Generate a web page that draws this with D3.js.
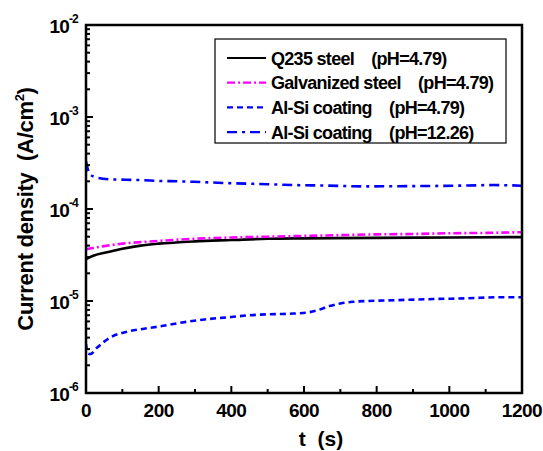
<!DOCTYPE html>
<meta charset="utf-8">
<head>
  <style>
    body { margin: 0; background: #fff; }
    svg { display: block; }
    text { font-family: "Liberation Sans", Arial, sans-serif; font-weight: bold; }
  </style>
</head>
<body>
  <script src="https://d3js.org/d3.v7.min.js"></script>
  <script>
    // readings: time (s) and current density (A/cm2)
    const seriesNames = [
      "Q235 steel    (pH=4.79)",
      "Galvanized steel    (pH=4.79)",
      "Al-Si coating    (pH=4.79)",
      "Al-Si coating    (pH=12.26)"
    ];
    const q235T = [0, 20, 60, 100, 150, 200, 300, 400, 500, 600, 800, 1000, 1200];
    const q235V = [2.85e-5, 3.1e-5, 3.4e-5, 3.7e-5, 4.0e-5, 4.2e-5, 4.45e-5, 4.6e-5, 4.75e-5, 4.8e-5, 4.85e-5, 4.9e-5, 4.95e-5];
    const galvT = [0, 50, 100, 200, 300, 400, 500, 600, 700, 800, 900, 1000, 1100, 1200];
    const galvV = [3.65e-5, 3.95e-5, 4.2e-5, 4.5e-5, 4.75e-5, 4.9e-5, 5.0e-5, 5.1e-5, 5.2e-5, 5.3e-5, 5.35e-5, 5.45e-5, 5.5e-5, 5.6e-5];
    const alsiT = [0, 5, 12, 30, 66, 110, 160, 204, 260, 326, 400, 449, 520, 571, 610, 640, 670, 700, 735, 773, 850, 955, 1050, 1139, 1200];
    const alsiV = [3.4e-6, 2.7e-6, 2.65e-6, 3.1e-6, 4.0e-6, 4.6e-6, 5.0e-6, 5.3e-6, 5.8e-6, 6.3e-6, 6.7e-6, 7.0e-6, 7.2e-6, 7.3e-6, 7.5e-6, 8.0e-6, 8.8e-6, 9.4e-6, 9.8e-6, 1.0e-5, 1.02e-5, 1.05e-5, 1.07e-5, 1.1e-5, 1.1e-5];
    const alkT = [0, 4, 10, 30, 66, 110, 154, 200, 250, 319, 410, 500, 571, 650, 773, 860, 955, 1050, 1120, 1200];
    const alkV = [3.3e-4, 2.8e-4, 2.4e-4, 2.2e-4, 2.1e-4, 2.08e-4, 2.06e-4, 2.02e-4, 2.0e-4, 1.96e-4, 1.9e-4, 1.86e-4, 1.82e-4, 1.8e-4, 1.76e-4, 1.77e-4, 1.78e-4, 1.8e-4, 1.82e-4, 1.79e-4];
    const xTicks = [0, 200, 400, 600, 800, 1000, 1200];
    const yDecades = [-6, -5, -4, -3, -2];

    const width = 543, height = 451;
    const mLeft = 86, mRight = 522, mTop = 25, mBottom = 393;

    const x = d3.scaleLinear().domain([0, 1200]).range([mLeft, mRight]);
    const y = d3.scaleLog().domain([1e-6, 1e-2]).range([mBottom, mTop]);

    const svg = d3.select("body").append("svg")
      .attr("width", width).attr("height", height);

    const series = [
      { t: q235T, v: q235V, color: "#000", dash: null },
      { t: galvT, v: galvV, color: "#ff00ff", dash: "8,3,2,3" },
      { t: alsiT, v: alsiV, color: "#0000ff", dash: "6,4" },
      { t: alkT, v: alkV, color: "#0000ff", dash: "10,5,3,5" }
    ];

    const line = d3.line()
      .x(d => x(d[0]))
      .y(d => y(d[1]))
      .curve(d3.curveMonotoneX);

    svg.append("defs").append("clipPath").attr("id", "clip")
      .append("rect").attr("x", mLeft).attr("y", mTop)
      .attr("width", mRight - mLeft).attr("height", mBottom - mTop);

    const plot = svg.append("g").attr("clip-path", "url(#clip)");
    series.forEach(s => {
      plot.append("path")
        .datum(s.t.map((t, i) => [t, s.v[i]]))
        .attr("fill", "none")
        .attr("stroke", s.color)
        .attr("stroke-width", 2.6)
        .attr("stroke-dasharray", s.dash)
        .attr("d", line);
    });

    // frame
    svg.append("rect")
      .attr("x", mLeft).attr("y", mTop)
      .attr("width", mRight - mLeft).attr("height", mBottom - mTop)
      .attr("fill", "none").attr("stroke", "#000").attr("stroke-width", 2.5);

    // x axis ticks (inward)
    const xMinor = d3.range(0, 1201, 100);
    svg.append("g").selectAll("line").data(xMinor).join("line")
      .attr("x1", d => x(d)).attr("x2", d => x(d))
      .attr("y1", mBottom).attr("y2", d => mBottom - (d % 200 === 0 ? 7 : 4))
      .attr("stroke", "#000").attr("stroke-width", 2);
    svg.append("g").selectAll("text").data(xTicks).join("text")
      .attr("x", d => x(d)).attr("y", 417)
      .attr("text-anchor", "middle")
      .attr("font-size", 19)
      .attr("letter-spacing", -0.5)
      .text(d => d);

    // y axis ticks (inward), log minors
    const yTickVals = [];
    yDecades.forEach(e => {
      if (e === -2) { yTickVals.push({ v: 1e-2, major: true }); return; }
      for (let m = 1; m <= 9; m++) yTickVals.push({ v: m * Math.pow(10, e), major: m === 1 });
    });
    svg.append("g").selectAll("line").data(yTickVals).join("line")
      .attr("x1", mLeft).attr("x2", d => mLeft + (d.major ? 7 : 4))
      .attr("y1", d => y(d.v)).attr("y2", d => y(d.v))
      .attr("stroke", "#000").attr("stroke-width", 2);

    const yLab = svg.append("g").selectAll("text").data(yDecades).join("text")
      .attr("x", 78).attr("y", d => y(Math.pow(10, d)) + 8)
      .attr("text-anchor", "end")
      .attr("font-size", 19)
      .attr("letter-spacing", -0.8);
    yLab.append("tspan").text("10");
    yLab.append("tspan").attr("font-size", 12).attr("dy", -10).text(d => d);

    // axis titles
    svg.append("text")
      .attr("x", 321).attr("y", 446)
      .attr("text-anchor", "middle").attr("font-size", 21)
      .style("white-space", "pre")
      .text("t  (s)");
    const yt = svg.append("text")
      .attr("transform", "translate(33,209) rotate(-90)")
      .attr("text-anchor", "middle").attr("font-size", 22)
      .attr("letter-spacing", -0.3)
      .style("white-space", "pre");
    yt.append("tspan").text("Current density  (A/cm");
    yt.append("tspan").attr("font-size", 13).attr("dy", -9).text("2");
    yt.append("tspan").attr("dy", 9).text(")");

    // legend
    const lg = svg.append("g");
    lg.append("rect")
      .attr("x", 215).attr("y", 39).attr("width", 291).attr("height", 104)
      .attr("fill", "#fff").attr("stroke", "#000").attr("stroke-width", 1.2);
    series.forEach((s, i) => {
      const ry = 58 + i * 24.7;
      lg.append("line")
        .attr("x1", 227).attr("x2", 266).attr("y1", ry).attr("y2", ry)
        .attr("stroke", s.color).attr("stroke-width", 2.2)
        .attr("stroke-dasharray", s.dash);
      lg.append("text")
        .attr("x", 271).attr("y", ry + 6.5)
        .attr("font-size", 18)
        .attr("letter-spacing", -0.7)
        .style("white-space", "pre")
        .text(seriesNames[i]);
    });
  </script>
</body>
